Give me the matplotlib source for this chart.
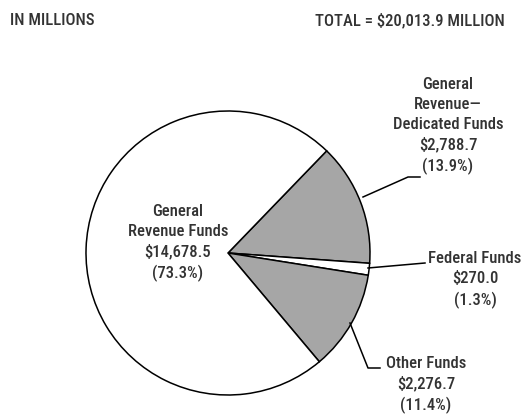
import matplotlib
matplotlib.use("Agg")
import matplotlib.pyplot as plt

# Data
categories = ["General\nRevenue\u2014\nDedicated Funds", "Federal Funds", "Other Funds", "General\nRevenue Funds"]
values = [2788.7, 270.0, 2276.7, 14678.5]
percents = [13.9, 1.3, 11.4, 73.3]
colors = ["#a6a6a6", "#ffffff", "#a6a6a6", "#ffffff"]
header_left = "IN MILLIONS"
header_right = "TOTAL = $20,013.9 MILLION"

W, H = 523, 419
FONT = ["Roboto Condensed", "DejaVu Sans"]
TC = "#333333"
FS = 12

fig = plt.figure(figsize=(W / 100, H / 100), dpi=100)
ax = fig.add_axes([0, 0, 1, 1])
ax.set_xlim(0, W)
ax.set_ylim(0, H)
ax.set_aspect("equal")
ax.axis("off")

def Y(y):
    return H - y

cx, cy, r = 228, 253, 142
ax.pie(values, colors=colors, startangle=46, counterclock=False,
       center=(cx, Y(cy)), radius=r,
       wedgeprops=dict(edgecolor="black", linewidth=1.1))
ax.set_xlim(0, W)
ax.set_ylim(0, H)

def fmt(i):
    return f"{categories[i]}\n${values[i]:,.1f}\n({percents[i]}%)"

tkw = dict(fontsize=FS, family=FONT, color=TC, ha="center", va="center",
           linespacing=1.42, weight="medium")

ax.text(10, Y(21), header_left, fontsize=FS, family=FONT, color=TC, ha="left", va="center", weight="medium")
ax.text(505, Y(21), header_right, fontsize=FS, family=FONT, color=TC, ha="right", va="center", weight="medium")

# General Revenue Funds
ax.text(178, Y(243), fmt(3), **tkw)
# GR-Dedicated
ax.text(448, Y(126), fmt(0), **tkw)
ax.plot([363, 408, 420], [Y(197), Y(177), Y(177)], color="black", lw=1.1)
# Federal
ax.text(475, Y(280), fmt(1), **tkw)
ax.plot([368, 425], [Y(268), Y(263)], color="black", lw=1.1)
# Other
ax.text(426, Y(385), fmt(2), **tkw)
ax.plot([350, 368, 380], [Y(323), Y(368), Y(368)], color="black", lw=1.1)

fig.savefig("out.png", dpi=100)
